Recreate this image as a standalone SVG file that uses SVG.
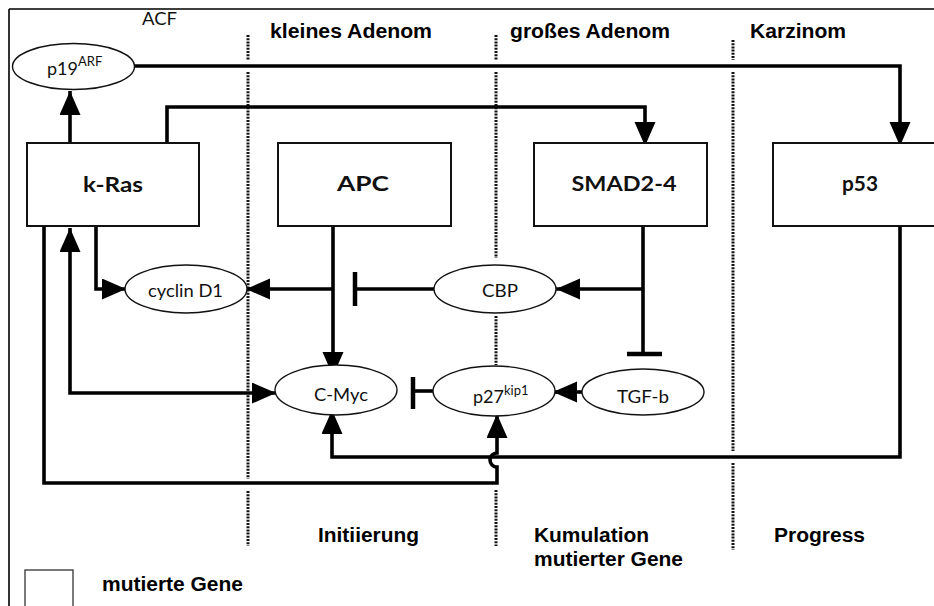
<svg xmlns="http://www.w3.org/2000/svg" width="934" height="606" viewBox="0 0 934 606">
<style>
.frame{fill:none;stroke:#000;stroke-width:1.6}
.box{fill:#fff;stroke:#111;stroke-width:2}
.ell{fill:#fff;stroke:#111;stroke-width:1.4}
.dot{fill:none;stroke:#111;stroke-width:3;stroke-dasharray:2 1.2}
.con{fill:none;stroke:#000;stroke-width:3.6}
.bar{fill:none;stroke:#000;stroke-width:4.5}
.blab{font-family:Lato,"Open Sans",sans-serif;font-weight:bold;font-size:21px;fill:#111;text-anchor:middle}
.elab{font-family:Lato,"Open Sans",sans-serif;font-size:18px;fill:#111}
.head{font-family:"Liberation Sans",Arial,sans-serif;font-weight:bold;font-size:20px;fill:#000}
</style>
<defs>
<marker id="arr" markerUnits="userSpaceOnUse" markerWidth="26" markerHeight="22" refX="24" refY="10.5" orient="auto-start-reverse" viewBox="0 0 26 22">
<path d="M0,0 L24,10.5 L0,21 z" fill="#000"/>
</marker>
</defs>
<rect width="934" height="606" fill="#fff"/>
<g id="frame">
<path class="frame" d="M9,9 H934 M9,9 V606"/>
</g>
<g id="phase-dividers">
<path class="dot" d="M248,35 V60 M248,72 V479 M248,491 V546"/>
<path class="dot" d="M496,35 V60 M496,72 V258 M496,316 V365 M496,490 V546"/>
<path class="dot" d="M733,40 V60 M733,72 V451 M733,463 V550"/>
</g>
<g id="connectors">
<path class="con" d="M70,143 V91" marker-end="url(#arr)"/>
<path class="con" d="M135,66 H900 V146" marker-end="url(#arr)"/>
<path class="con" d="M167,143 V107 H645 V146" marker-end="url(#arr)"/>
<path class="con" d="M96,226 V289 H126" marker-end="url(#arr)"/>
<path class="con" d="M70,228 V393 H276" marker-start="url(#arr)" marker-end="url(#arr)"/>
<path class="con" d="M333,226 V376" marker-end="url(#arr)"/>
<path class="con" d="M333,289 H246" marker-end="url(#arr)"/>
<path class="con" d="M434,289 H355"/>
<path class="bar" d="M355,272 V306"/>
<path class="con" d="M643,226 V354"/>
<path class="bar" d="M627,354 H662"/>
<path class="con" d="M643,289 H556" marker-end="url(#arr)"/>
<path class="con" d="M582,392 H553" marker-end="url(#arr)"/>
<path class="con" d="M433,391 H413"/>
<path class="bar" d="M413,377 V409"/>
<path class="con" d="M900,226 V457 H332 V410" marker-end="url(#arr)"/>
<path class="con" d="M44,226 V483 H497 V467 A7,7 0 0 1 497,453 V414" marker-end="url(#arr)"/>
</g>
<g id="kras">
<rect class="box" x="27" y="143" width="172" height="83"/>
<text class="blab" x="113" y="192" textLength="60" lengthAdjust="spacingAndGlyphs">k-Ras</text>
</g>
<g id="apc">
<rect class="box" x="278" y="143" width="173" height="83"/>
<text class="blab" x="363" y="191" textLength="52" lengthAdjust="spacingAndGlyphs">APC</text>
</g>
<g id="smad">
<rect class="box" x="534" y="143" width="173" height="83"/>
<text class="blab" x="624" y="191" textLength="105" lengthAdjust="spacingAndGlyphs">SMAD2-4</text>
</g>
<g id="p53">
<rect class="box" x="773" y="143" width="175" height="83"/>
<text class="blab" x="860" y="191" textLength="36" lengthAdjust="spacingAndGlyphs">p53</text>
</g>
<g id="p19arf">
<ellipse class="ell" cx="73.5" cy="66.5" rx="61" ry="23"/>
<text class="elab" x="47" y="75">p19<tspan dy="-9" font-size="13">ARF</tspan></text>
</g>
<g id="cyclinD1">
<ellipse class="ell" cx="186" cy="289" rx="61" ry="24"/>
<text class="elab" x="148" y="297" textLength="75" lengthAdjust="spacingAndGlyphs">cyclin D1</text>
</g>
<g id="cbp">
<ellipse class="ell" cx="495" cy="289" rx="61" ry="24"/>
<text class="elab" x="482" y="297" textLength="36" lengthAdjust="spacingAndGlyphs">CBP</text>
</g>
<g id="cmyc">
<ellipse class="ell" cx="336" cy="390" rx="61" ry="25"/>
<text class="elab" x="314" y="401" textLength="54" lengthAdjust="spacingAndGlyphs">C-Myc</text>
</g>
<g id="p27kip1">
<ellipse class="ell" cx="494" cy="391" rx="61" ry="25"/>
<text class="elab" x="473" y="403">p27<tspan dy="-8" font-size="13">kip1</tspan></text>
</g>
<g id="tgfb">
<ellipse class="ell" cx="643" cy="392" rx="61" ry="23"/>
<text class="elab" x="617" y="403" textLength="52" lengthAdjust="spacingAndGlyphs">TGF-b</text>
</g>
<g id="labels">
<text x="142" y="25" font-family="Lato,'Open Sans',sans-serif" font-size="17" fill="#111" textLength="35" lengthAdjust="spacingAndGlyphs">ACF</text>
<text class="head" x="270" y="38" textLength="162" lengthAdjust="spacingAndGlyphs">kleines Adenom</text>
<text class="head" x="510" y="38" textLength="160" lengthAdjust="spacingAndGlyphs">großes Adenom</text>
<text class="head" x="750" y="38" textLength="96" lengthAdjust="spacingAndGlyphs">Karzinom</text>
<text class="head" x="318" y="542" textLength="101" lengthAdjust="spacingAndGlyphs">Initiierung</text>
<text class="head" x="534" y="542" textLength="115" lengthAdjust="spacingAndGlyphs">Kumulation</text>
<text class="head" x="534" y="566" textLength="149" lengthAdjust="spacingAndGlyphs">mutierter Gene</text>
<text class="head" x="774" y="542" textLength="91" lengthAdjust="spacingAndGlyphs">Progress</text>
</g>
<g id="legend">
<rect x="25" y="570" width="48" height="42" fill="#fff" stroke="#333" stroke-width="1.3"/>
<text class="head" x="102" y="591" textLength="141" lengthAdjust="spacingAndGlyphs">mutierte Gene</text>
</g>
</svg>
